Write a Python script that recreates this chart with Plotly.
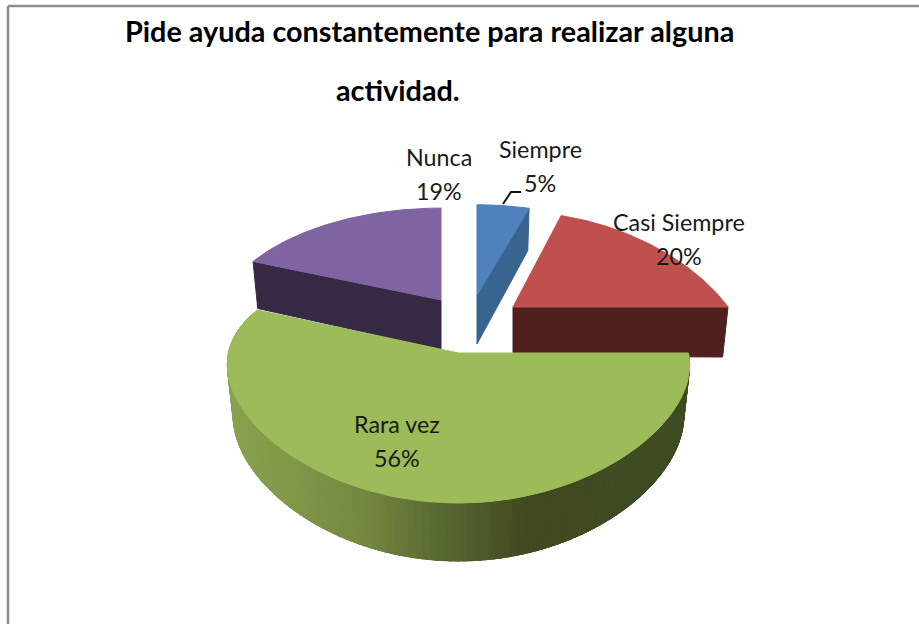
import numpy as np
import plotly.graph_objects as go

# ---- data ----
categories = ["Siempre", "Casi Siempre", "Rara vez", "Nunca"]
percentages = [5, 20, 56, 19]
title_lines = ["Pide ayuda constantemente para realizar alguna", "actividad."]

# ---- styling / layout (pixel scale of the axes) ----
apex_x = [477, 513, 458.5, 441]
apex_y = [295, 307, 353, 300]
radius_x = [207, 215, 230, 220]
radius_y = [112, 118, 114, 114]
persp_x = [0.24, 0.40, 0.10, 0.24]
end_tweak = [0, 0, 0.05, 0]
top_colors = ["#4f81bd", "#c0504d", "#9dbb59", "#8064a2"]
side_colors = ["#38648f", "#4f201e", "#40491f", "#362944"]
label_x = [540, 679, 397, 439]
label_y = [149, 222, 424, 157]
LINE_GAP = 34
P = 0.24
RIM_BASE, RIM_SLOPE, APEX_DEPTH, BOTTOM_SCALE = 50.0, 8.0, 49.0, 0.975
grad_x = [226, 300, 370, 450, 530, 600, 691]
grad_rgb = [(138, 163, 79), (128, 150, 72), (116, 135, 63), (86, 102, 48),
            (64, 74, 32), (63, 75, 34), (63, 75, 34)]

cum = np.cumsum([0] + percentages) / sum(percentages) * 2 * np.pi
fig = go.Figure()


def top_pt(i, t):
    u, v = np.sin(t), np.cos(t)
    return (apex_x[i] + radius_x[i] * u / (1 + persp_x[i] * v),
            apex_y[i] - radius_y[i] * v / (1 + P * v))


def bot_pt(i, t):
    u, v = np.sin(t), np.cos(t)
    return (apex_x[i] + BOTTOM_SCALE * radius_x[i] * u / (1 + persp_x[i] * v),
            apex_y[i] - radius_y[i] * v / (1 + P * v) + RIM_BASE - RIM_SLOPE * v)


def poly(xs, ys, color):
    fig.add_trace(go.Scatter(x=list(xs), y=list(ys), mode="lines", fill="toself",
                             fillcolor=color, line=dict(color=color, width=1),
                             hoverinfo="skip", showlegend=False))


def cut_face(i, t):
    tx, ty = top_pt(i, t)
    bx, by = bot_pt(i, t)
    poly([apex_x[i], tx, bx, apex_x[i], apex_x[i]],
         [apex_y[i], ty, by, apex_y[i] + APEX_DEPTH, apex_y[i]], side_colors[i])


def top_face(i):
    ts = np.linspace(cum[i], cum[i + 1] + end_tweak[i], 90)
    xs, ys = top_pt(i, ts)
    poly(np.r_[apex_x[i], xs, apex_x[i]], np.r_[apex_y[i], ys, apex_y[i]], top_colors[i])


# back to front: Nunca, Siempre, Casi Siempre, Rara vez
cut_face(3, cum[3])
top_face(3)
cut_face(0, cum[1])
top_face(0)
cut_face(1, cum[2])
top_face(1)

# Rara vez rim with a horizontal gradient; each strip overlaps the next one
edges = np.linspace(cum[2], cum[3], 120)
step = edges[1] - edges[0]
for a in edges[:-1]:
    ts = np.linspace(a, a + 2.5 * step, 4)
    tx, ty = top_pt(2, ts)
    bx, by = bot_pt(2, ts)
    mid = float(tx[0])
    rgb = [np.interp(mid, grad_x, [c[k] for c in grad_rgb]) for k in range(3)]
    poly(np.r_[tx, bx[::-1], tx[0]], np.r_[ty, by[::-1], ty[0]],
         "rgb(%d,%d,%d)" % tuple(rgb))
top_face(2)

# leader line for Siempre
fig.add_trace(go.Scatter(x=[503, 511, 521], y=[204, 192, 192], mode="lines",
                         line=dict(color="#111111", width=2), hoverinfo="skip", showlegend=False))

FONT = "Lato, Carlito, Calibri, sans-serif"
ann = []
for name, pct, x, y in zip(categories, percentages, label_x, label_y):
    ann.append(dict(x=x, y=y, text=name, showarrow=False, xanchor="center", yanchor="middle",
                    font=dict(family=FONT, size=23.3, color="#1a1a1a")))
    ann.append(dict(x=x, y=y + LINE_GAP, text=f"{pct}%", showarrow=False, xanchor="center",
                    yanchor="middle", font=dict(family=FONT, size=23.3, color="#1a1a1a")))
ann.append(dict(x=429, y=31, text=f"<b>{title_lines[0]}</b>", showarrow=False, xanchor="center",
                yanchor="middle", font=dict(family=FONT, size=28.8, color="#000000")))
ann.append(dict(x=398, y=90, text=f"<b>{title_lines[1]}</b>", showarrow=False, xanchor="center",
                yanchor="middle", font=dict(family=FONT, size=28.8, color="#000000")))

fig.update_layout(
    width=919, height=624, margin=dict(l=0, r=0, t=0, b=0),
    paper_bgcolor="white", plot_bgcolor="white", annotations=ann, showlegend=False,
    xaxis=dict(range=[0, 919], visible=False, fixedrange=True),
    yaxis=dict(range=[624, 0], visible=False, fixedrange=True),
    shapes=[dict(type="line", x0=8, x1=8, y0=6, y1=624, line=dict(color="#8c8c8c", width=2.5)),
            dict(type="line", x0=8, x1=919, y0=6, y1=6, line=dict(color="#8c8c8c", width=2.5))],
)
fig.write_html("out.html", config={"displayModeBar": False},
               post_script="document.body.style.margin='0';document.body.style.overflow='hidden';")
